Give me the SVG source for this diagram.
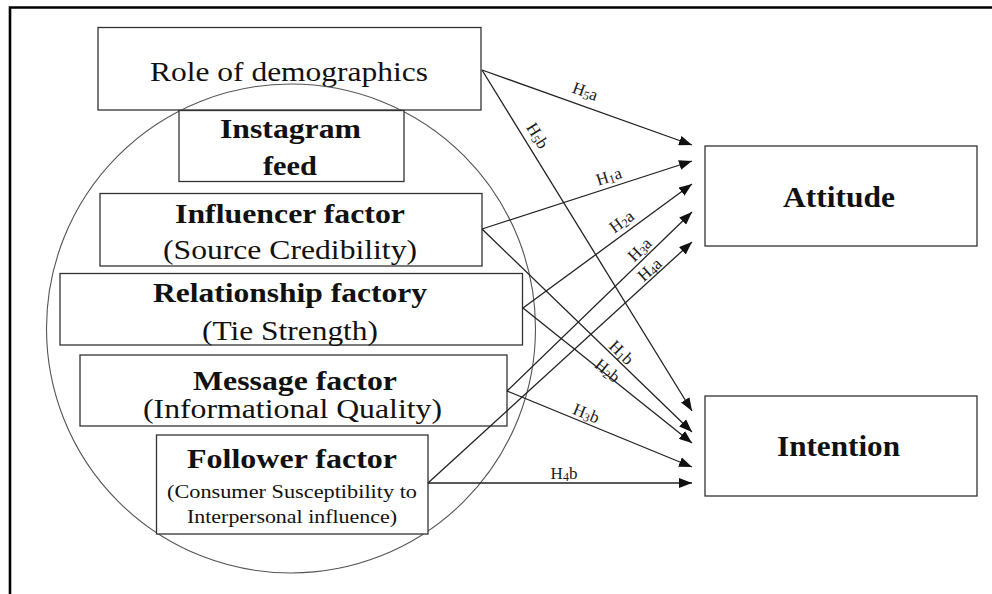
<svg xmlns="http://www.w3.org/2000/svg" width="992" height="594" viewBox="0 0 992 594">
  <style>
    .box { fill: #fff; stroke: #333; stroke-width: 1.3; }
    .t { font-family: "Liberation Serif", "Times New Roman", serif; fill: #111; text-anchor: middle; }
    .b { font-weight: bold; }
    .lbl { font-family: "Liberation Serif", "Times New Roman", serif; font-size: 17px; fill: #1a1a1a; text-anchor: middle; }
    .sub { font-size: 12px; }
    .conn { stroke: #222; stroke-width: 1.3; fill: none; marker-end: url(#arrow); }
  </style>
  <defs>
    <marker id="arrow" markerUnits="userSpaceOnUse" markerWidth="14" markerHeight="10" refX="13" refY="5" orient="auto">
      <path d="M0,0 L13,5 L0,10 Z" fill="#111"/>
    </marker>
  </defs>

  <rect width="992" height="594" fill="#fff"/>

  <!-- frame (left and top edges) -->
  <path d="M10,594 V7.5 H992" fill="none" stroke="#000" stroke-width="2.6"/>

  <!-- Role of demographics -->
  <g id="demographics">
    <rect class="box" x="98" y="27.5" width="383" height="82.5"/>
    <text class="t" x="289" y="81" font-size="28" textLength="278" lengthAdjust="spacingAndGlyphs">Role of demographics</text>
  </g>

  <!-- enclosing circle -->
  <g id="circle">
    <circle cx="291" cy="328.5" r="244.5" fill="none" stroke="#555" stroke-width="1.1"/>
  </g>

  <g id="instagram">
    <rect class="box" x="179" y="110.5" width="225" height="71"/>
    <text class="t b" x="290.5" y="138" font-size="28" textLength="141" lengthAdjust="spacingAndGlyphs">Instagram</text>
    <text class="t b" x="290" y="175" font-size="28" textLength="54" lengthAdjust="spacingAndGlyphs">feed</text>
  </g>

  <g id="influencer">
    <rect class="box" x="100" y="193.5" width="382" height="72.5"/>
    <text class="t b" x="290" y="223" font-size="28" textLength="230" lengthAdjust="spacingAndGlyphs">Influencer factor</text>
    <text class="t" x="290" y="259" font-size="28" textLength="254" lengthAdjust="spacingAndGlyphs">(Source Credibility)</text>
  </g>

  <g id="relationship">
    <rect class="box" x="60" y="273.5" width="462.5" height="71.5"/>
    <text class="t b" x="290" y="302" font-size="28" textLength="274" lengthAdjust="spacingAndGlyphs">Relationship factory</text>
    <text class="t" x="290" y="340" font-size="28" textLength="176" lengthAdjust="spacingAndGlyphs">(Tie Strength)</text>
  </g>

  <g id="message">
    <rect class="box" x="80" y="355" width="427" height="71"/>
    <text class="t b" x="295" y="390" font-size="28" textLength="204" lengthAdjust="spacingAndGlyphs">Message factor</text>
    <text class="t" x="292.5" y="418" font-size="28" textLength="299" lengthAdjust="spacingAndGlyphs">(Informational Quality)</text>
  </g>

  <g id="follower">
    <rect class="box" x="156.5" y="435" width="271.5" height="99"/>
    <text class="t b" x="292" y="468" font-size="28" textLength="210" lengthAdjust="spacingAndGlyphs">Follower factor</text>
    <text class="t" x="292" y="498" font-size="19" textLength="250" lengthAdjust="spacingAndGlyphs">(Consumer Susceptibility to</text>
    <text class="t" x="292" y="523" font-size="19" textLength="210" lengthAdjust="spacingAndGlyphs">Interpersonal influence)</text>
  </g>

  <g id="attitude">
    <rect class="box" x="705" y="146" width="272" height="100"/>
    <text class="t b" x="839" y="207" font-size="29" textLength="112" lengthAdjust="spacingAndGlyphs">Attitude</text>
  </g>

  <g id="intention">
    <rect class="box" x="705" y="396" width="272" height="100"/>
    <text class="t b" x="838.5" y="456" font-size="29" textLength="123" lengthAdjust="spacingAndGlyphs">Intention</text>
  </g>

  <!-- hypothesis paths -->
  <g id="connectors">
    <line class="conn" x1="482" y1="70" x2="692" y2="145"/>
    <line class="conn" x1="482" y1="70" x2="692" y2="411"/>
    <line class="conn" x1="482" y1="229" x2="692" y2="161"/>
    <line class="conn" x1="482" y1="229" x2="692" y2="432"/>
    <line class="conn" x1="523" y1="308" x2="692" y2="184"/>
    <line class="conn" x1="523" y1="308" x2="692" y2="443"/>
    <line class="conn" x1="507" y1="391" x2="692" y2="212"/>
    <line class="conn" x1="507" y1="391" x2="692" y2="467"/>
    <line class="conn" x1="428" y1="483" x2="692" y2="242"/>
    <line class="conn" x1="428" y1="483" x2="692" y2="483"/>

    <text class="lbl" transform="translate(585,92) rotate(20)" y="5">H<tspan class="sub" dy="2">5</tspan><tspan dy="-2">a</tspan></text>
    <text class="lbl" transform="translate(537,136) rotate(58)" y="5">H<tspan class="sub" dy="2">5</tspan><tspan dy="-2">b</tspan></text>
    <text class="lbl" transform="translate(609,177) rotate(-18)" y="5">H<tspan class="sub" dy="2">1</tspan><tspan dy="-2">a</tspan></text>
    <text class="lbl" transform="translate(622,222) rotate(-36)" y="5">H<tspan class="sub" dy="2">2</tspan><tspan dy="-2">a</tspan></text>
    <text class="lbl" transform="translate(640,250) rotate(-44)" y="5">H<tspan class="sub" dy="2">3</tspan><tspan dy="-2">a</tspan></text>
    <text class="lbl" transform="translate(650,270) rotate(-42)" y="5">H<tspan class="sub" dy="2">4</tspan><tspan dy="-2">a</tspan></text>
    <text class="lbl" transform="translate(621,353) rotate(44)" y="5">H<tspan class="sub" dy="2">1</tspan><tspan dy="-2">b</tspan></text>
    <text class="lbl" transform="translate(607,371) rotate(39)" y="5">H<tspan class="sub" dy="2">2</tspan><tspan dy="-2">b</tspan></text>
    <text class="lbl" transform="translate(586,414) rotate(22)" y="5">H<tspan class="sub" dy="2">3</tspan><tspan dy="-2">b</tspan></text>
    <text class="lbl" transform="translate(564,474)" y="5">H<tspan class="sub" dy="2">4</tspan><tspan dy="-2">b</tspan></text>
  </g>
</svg>
